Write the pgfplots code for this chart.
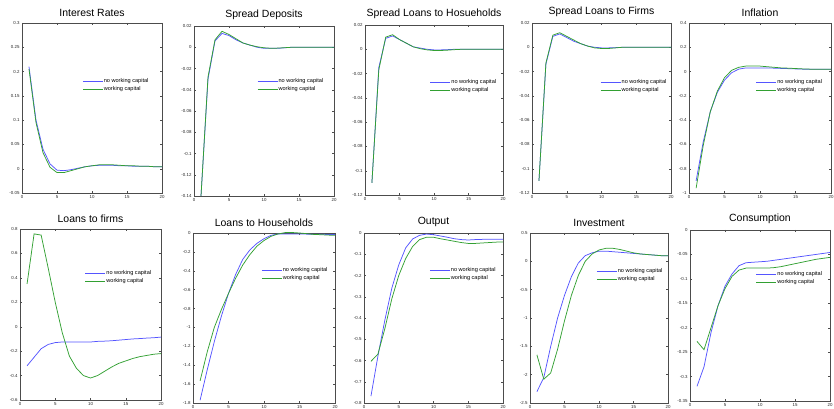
\documentclass[border=0pt]{standalone}
\usepackage{fontspec}
\setmainfont{Liberation Sans}
\usepackage{pgfplots}
\pgfplotsset{compat=1.18}
\definecolor{nwc}{RGB}{85,85,255}
\definecolor{wc}{RGB}{50,160,50}
\pgfplotsset{
  panel/.style={
    scale only axis, width=140bp, height=170bp, anchor=north west,
    xmin=0, xmax=20, xtick={0,5,10,15,20},
    tick align=inside, major tick length=2bp,
    axis line style={black!70, line width=0.5pt},
    tick style={black!70, line width=0.4pt},
    ticklabel style={font=\fontsize{4.4}{5}\selectfont, text=black!85},
    xticklabel style={yshift=1bp},
    yticklabel style={/pgf/number format/fixed, /pgf/number format/precision=2, xshift=1bp},
    scaled y ticks=false,
    /pgf/number format/assume math mode=true,
    title style={font=\fontsize{10.5}{12}\selectfont, yshift=-3bp},
    legend style={draw=none, fill=none, anchor=north west, inner sep=0pt,
      font=\fontsize{5.6}{6.5}\selectfont, row sep=1.2bp,
      nodes={inner sep=0.6bp}},
    legend cell align=left,
    legend image code/.code={\draw[line width=0.8pt] (0bp,0bp) -- (20bp,0bp);},
    every axis plot/.append style={line width=0.75pt, no marks},
  },
}
\newcommand{\mylg}{\legend{no working capital, working capital}}
\begin{document}
\begin{tikzpicture}
\useasboundingbox (0,0) rectangle (834bp,409bp);
% 1 Interest Rates
\begin{axis}[panel, at={(22bp,386bp)}, title={Interest Rates},
  ymin=-0.05, ymax=0.3, ytick={-0.05,0,0.05,0.1,0.15,0.2,0.25,0.3},
  legend style={at={(0.43,0.655)}, yshift=4bp}]
\addplot[nwc] coordinates {(1,0.21)(2,0.10)(3,0.04)(4,0.01)(5,-0.003)(6,-0.004)(7,-0.002)(8,0.001)(9,0.004)(10,0.006)(11,0.007)(12,0.007)(13,0.007)(14,0.006)(15,0.006)(16,0.005)(17,0.005)(18,0.005)(19,0.004)(20,0.004)};
\addplot[wc] coordinates {(1,0.205)(2,0.095)(3,0.033)(4,0.003)(5,-0.008)(6,-0.008)(7,-0.004)(8,0.0)(9,0.004)(10,0.006)(11,0.008)(12,0.008)(13,0.008)(14,0.007)(15,0.006)(16,0.006)(17,0.005)(18,0.005)(19,0.004)(20,0.004)};
\mylg
\end{axis}
% 2 Spread Deposits
\begin{axis}[panel, at={(194bp,383bp)}, title={Spread Deposits},
  ymin=-0.14, ymax=0.02, ytick={-0.14,-0.12,-0.1,-0.08,-0.06,-0.04,-0.02,0,0.02},
  legend style={at={(0.45,0.67)}, yshift=4bp}]
\addplot[nwc] coordinates {(1,-0.14)(2,-0.03)(3,0.006)(4,0.013)(5,0.011)(6,0.007)(7,0.004)(8,0.002)(9,0.0)(10,-0.001)(11,-0.001)(12,-0.001)(13,-0.0005)(14,0)(15,0)(16,0)(17,0)(18,0)(19,0)(20,0)};
\addplot[wc] coordinates {(1,-0.14)(2,-0.028)(3,0.007)(4,0.015)(5,0.012)(6,0.008)(7,0.004)(8,0.002)(9,0.0005)(10,-0.0005)(11,-0.001)(12,-0.0008)(13,-0.0004)(14,0)(15,0)(16,0)(17,0)(18,0)(19,0)(20,0)};
\mylg
\end{axis}
% 3 Spread Loans to Households
\begin{axis}[panel, at={(365bp,384bp)}, width=138bp, title={Spread Loans to Hosueholds},
  ymin=-0.12, ymax=0.02, ytick={-0.12,-0.1,-0.08,-0.06,-0.04,-0.02,0,0.02},
  legend style={at={(0.47,0.66)}, yshift=4bp}]
\addplot[nwc] coordinates {(1,-0.11)(2,-0.015)(3,0.009)(4,0.011)(5,0.008)(6,0.005)(7,0.002)(8,0.001)(9,0)(10,-0.0005)(11,-0.0005)(12,-0.0003)(13,0)(14,0)(15,0)(16,0)(17,0)(18,0)(19,0)(20,0)};
\addplot[wc] coordinates {(1,-0.11)(2,-0.017)(3,0.010)(4,0.012)(5,0.008)(6,0.005)(7,0.002)(8,0.0005)(9,-0.0005)(10,-0.001)(11,-0.001)(12,-0.0007)(13,-0.0003)(14,0)(15,0)(16,0)(17,0)(18,0)(19,0)(20,0)};
\mylg
\end{axis}
% 4 Spread Loans to Firms
\begin{axis}[panel, at={(532bp,386bp)}, width=139bp, title={Spread Loans to Firms},
  ymin=-0.12, ymax=0.02, ytick={-0.12,-0.1,-0.08,-0.06,-0.04,-0.02,0,0.02},
  legend style={at={(0.49,0.65)}, yshift=4bp}]
\addplot[nwc] coordinates {(1,-0.11)(2,-0.014)(3,0.009)(4,0.011)(5,0.008)(6,0.005)(7,0.003)(8,0.001)(9,0)(10,-0.0005)(11,-0.0005)(12,-0.0003)(13,0)(14,0)(15,0)(16,0)(17,0)(18,0)(19,0)(20,0)};
\addplot[wc] coordinates {(1,-0.11)(2,-0.013)(3,0.010)(4,0.012)(5,0.009)(6,0.006)(7,0.003)(8,0.001)(9,-0.0005)(10,-0.001)(11,-0.001)(12,-0.0005)(13,0)(14,0)(15,0)(16,0)(17,0)(18,0)(19,0)(20,0)};
\mylg
\end{axis}
% 5 Inflation
\begin{axis}[panel, at={(689bp,386bp)}, width=142bp, title={Inflation},
  ymin=-1, ymax=0.4, ytick={-1,-0.8,-0.6,-0.4,-0.2,0,0.2,0.4},
  legend style={at={(0.47,0.65)}, yshift=4bp}]
\addplot[nwc] coordinates {(1,-0.9)(2,-0.58)(3,-0.33)(4,-0.17)(5,-0.07)(6,-0.01)(7,0.02)(8,0.03)(9,0.03)(10,0.03)(11,0.03)(12,0.028)(13,0.026)(14,0.024)(15,0.022)(16,0.02)(17,0.02)(18,0.02)(19,0.02)(20,0.02)};
\addplot[wc] coordinates {(1,-0.96)(2,-0.61)(3,-0.33)(4,-0.16)(5,-0.05)(6,0.01)(7,0.035)(8,0.045)(9,0.045)(10,0.045)(11,0.04)(12,0.035)(13,0.03)(14,0.028)(15,0.025)(16,0.022)(17,0.02)(18,0.02)(19,0.02)(20,0.02)};
\mylg
\end{axis}
% 6 Loans to firms
\begin{axis}[panel, at={(20bp,180bp)}, width=141bp, height=171bp, title={Loans to firms},
  ymin=-0.6, ymax=0.8, ytick={-0.6,-0.4,-0.2,0,0.2,0.4,0.6,0.8},
  legend style={at={(0.46,0.74)}, yshift=4bp}]
\addplot[nwc] coordinates {(1,-0.32)(2,-0.25)(3,-0.18)(4,-0.145)(5,-0.13)(6,-0.125)(7,-0.125)(8,-0.125)(9,-0.125)(10,-0.125)(11,-0.12)(12,-0.118)(13,-0.115)(14,-0.11)(15,-0.105)(16,-0.1)(17,-0.097)(18,-0.093)(19,-0.09)(20,-0.085)};
\addplot[wc] coordinates {(1,0.35)(2,0.76)(3,0.75)(4,0.48)(5,0.2)(6,-0.05)(7,-0.24)(8,-0.34)(9,-0.40)(10,-0.42)(11,-0.40)(12,-0.365)(13,-0.33)(14,-0.30)(15,-0.28)(16,-0.26)(17,-0.245)(18,-0.235)(19,-0.225)(20,-0.22)};
\mylg
\end{axis}
% 7 Loans to Households
\begin{axis}[panel, at={(193bp,176bp)}, width=142bp, title={Loans to Households},
  ymin=-1.8, ymax=0, ytick={-1.8,-1.6,-1.4,-1.2,-1,-0.8,-0.6,-0.4,-0.2,0},
  legend style={at={(0.48,0.78)}, yshift=4bp}]
\addplot[nwc] coordinates {(1,-1.77)(2,-1.45)(3,-1.15)(4,-0.88)(5,-0.64)(6,-0.44)(7,-0.28)(8,-0.18)(9,-0.11)(10,-0.06)(11,-0.025)(12,-0.01)(13,-0.01)(14,-0.01)(15,-0.01)(16,-0.012)(17,-0.013)(18,-0.014)(19,-0.015)(20,-0.015)};
\addplot[wc] coordinates {(1,-1.565)(2,-1.26)(3,-1.0)(4,-0.81)(5,-0.64)(6,-0.48)(7,-0.34)(8,-0.23)(9,-0.14)(10,-0.08)(11,-0.035)(12,-0.01)(13,0.005)(14,0.005)(15,0)(16,-0.007)(17,-0.015)(18,-0.018)(19,-0.022)(20,-0.025)};
\mylg
\end{axis}
% 8 Output
\begin{axis}[panel, at={(364bp,176bp)}, width=139bp, title={Output},
  ymin=-0.8, ymax=0, ytick={-0.8,-0.7,-0.6,-0.5,-0.4,-0.3,-0.2,-0.1,0},
  legend style={at={(0.47,0.78)}, yshift=4bp}]
\addplot[nwc] coordinates {(1,-0.768)(2,-0.58)(3,-0.41)(4,-0.26)(5,-0.15)(6,-0.07)(7,-0.028)(8,-0.011)(9,-0.005)(10,-0.008)(11,-0.014)(12,-0.02)(13,-0.027)(14,-0.031)(15,-0.033)(16,-0.031)(17,-0.03)(18,-0.03)(19,-0.03)(20,-0.03)};
\addplot[wc] coordinates {(1,-0.604)(2,-0.57)(3,-0.45)(4,-0.31)(5,-0.2)(6,-0.12)(7,-0.063)(8,-0.031)(9,-0.02)(10,-0.02)(11,-0.027)(12,-0.033)(13,-0.039)(14,-0.045)(15,-0.049)(16,-0.049)(17,-0.047)(18,-0.045)(19,-0.043)(20,-0.042)};
\mylg
\end{axis}
% 9 Investment
\begin{axis}[panel, at={(530bp,176bp)}, width=138bp, title={Investment},
  ymin=-2.5, ymax=0.5, ytick={-2.5,-2,-1.5,-1,-0.5,0,0.5},
  legend style={at={(0.48,0.77)}, yshift=4bp}]
\addplot[nwc] coordinates {(1,-2.3)(2,-2.05)(3,-1.5)(4,-1.0)(5,-0.6)(6,-0.27)(7,-0.03)(8,0.1)(9,0.15)(10,0.18)(11,0.18)(12,0.17)(13,0.16)(14,0.15)(15,0.14)(16,0.13)(17,0.12)(18,0.11)(19,0.1)(20,0.1)};
\addplot[wc] coordinates {(1,-1.65)(2,-2.08)(3,-1.97)(4,-1.55)(5,-1.05)(6,-0.6)(7,-0.25)(8,0.0)(9,0.13)(10,0.2)(11,0.23)(12,0.23)(13,0.21)(14,0.18)(15,0.15)(16,0.13)(17,0.12)(18,0.11)(19,0.1)(20,0.1)};
\mylg
\end{axis}
% 10 Consumption
\begin{axis}[panel, at={(690bp,179bp)}, width=140bp, height=171bp, title={Consumption},
  ymin=-0.35, ymax=0, ytick={-0.35,-0.3,-0.25,-0.2,-0.15,-0.1,-0.05,0},
  legend style={at={(0.47,0.74)}, yshift=4bp}]
\addplot[nwc] coordinates {(1,-0.32)(2,-0.28)(3,-0.21)(4,-0.155)(5,-0.115)(6,-0.09)(7,-0.073)(8,-0.067)(9,-0.066)(10,-0.065)(11,-0.064)(12,-0.062)(13,-0.06)(14,-0.058)(15,-0.056)(16,-0.054)(17,-0.052)(18,-0.05)(19,-0.048)(20,-0.046)};
\addplot[wc] coordinates {(1,-0.228)(2,-0.245)(3,-0.2)(4,-0.155)(5,-0.12)(6,-0.095)(7,-0.082)(8,-0.078)(9,-0.078)(10,-0.078)(11,-0.078)(12,-0.077)(13,-0.075)(14,-0.072)(15,-0.069)(16,-0.066)(17,-0.063)(18,-0.06)(19,-0.058)(20,-0.056)};
\mylg
\end{axis}
\end{tikzpicture}
\end{document}
